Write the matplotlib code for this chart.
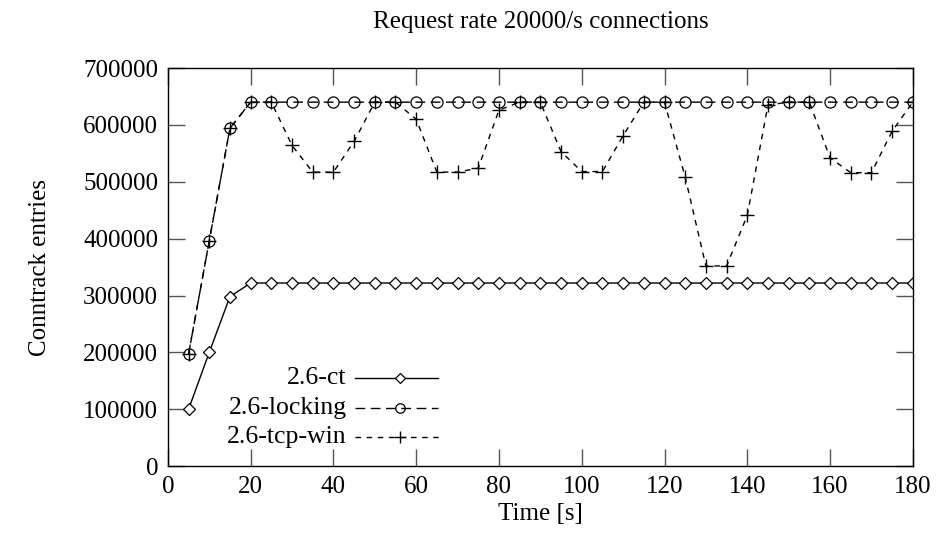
import numpy as np
import matplotlib
matplotlib.use('Agg')
import matplotlib.pyplot as plt

plt.rcParams['font.family'] = ['Liberation Serif', 'DejaVu Serif']

time_s = list(range(5, 181, 5))

ct = [100000, 200000, 298000] + [322000] * 33

locking = [197000, 396000, 594000] + [640000] * 33

tcp_win = [197000, 396000, 594000, 640000, 640000, 564000, 517000, 517000,
           571000, 640000, 640000, 610000, 517000, 517000, 524000, 626000,
           640000, 640000, 553000, 518000, 518000, 581000, 640000, 640000,
           508000, 352000, 352000, 441000, 635000, 640000, 640000, 542000,
           516000, 516000, 589000, 640000]

series_names = ['2.6-ct', '2.6-locking', '2.6-tcp-win']

fig = plt.figure(figsize=(9.43, 5.53), dpi=100)
ax = fig.add_axes([0.178, 0.157, 0.79, 0.72])

s_ct = dict(color='black', lw=1.0, ls='-', marker='D', ms=6.5, mfc='white', mec='black', mew=0.9)
s_lock = dict(color='black', lw=1.0, ls=(0, (7, 4)), marker='o', ms=8, mfc='none', mec='black', mew=0.9)
s_tcp = dict(color='black', lw=1.0, ls=(0, (4, 4)), marker='+', ms=10, mec='black', mew=1.0)

ax.plot(time_s, ct, **s_ct)
ax.plot(time_s, locking, **s_lock)
ax.plot(time_s, tcp_win, **s_tcp)

ax.set_xlim(0, 180)
ax.set_ylim(0, 700000)
ax.set_xticks(np.arange(0, 181, 20))
ax.set_yticks(np.arange(0, 700001, 100000))
ax.tick_params(direction='in', length=12, width=1.0, color='#555555',
               top=True, right=True, labelsize=18, pad=7)
for sp in ax.spines.values():
    sp.set_linewidth(1.0)

ax.set_title('Request rate 20000/s connections', fontsize=18, pad=29)
ax.set_xlabel('Time [s]', fontsize=18, labelpad=4)
ax.set_ylabel('Conntrack entries', fontsize=18, labelpad=23)

# gnuplot style key: label right-aligned, sample to the right
key_y = [0.221, 0.146, 0.073]
for name, st, ky in zip(series_names, [s_ct, s_lock, s_tcp], key_y):
    ax.text(0.240, ky, name, transform=ax.transAxes, ha='right', va='center', fontsize=18.5)
    ax.plot([0.251, 0.362], [ky, ky], transform=ax.transAxes, color='black',
            lw=1.0, ls=st['ls'], clip_on=False)
    ax.plot([0.311], [ky], transform=ax.transAxes, ls='none', marker=st['marker'],
            ms=st['ms'] * 0.85, mfc=st.get('mfc', 'none'), mec='black', mew=st['mew'], clip_on=False)

fig.savefig('out.png', dpi=100)
